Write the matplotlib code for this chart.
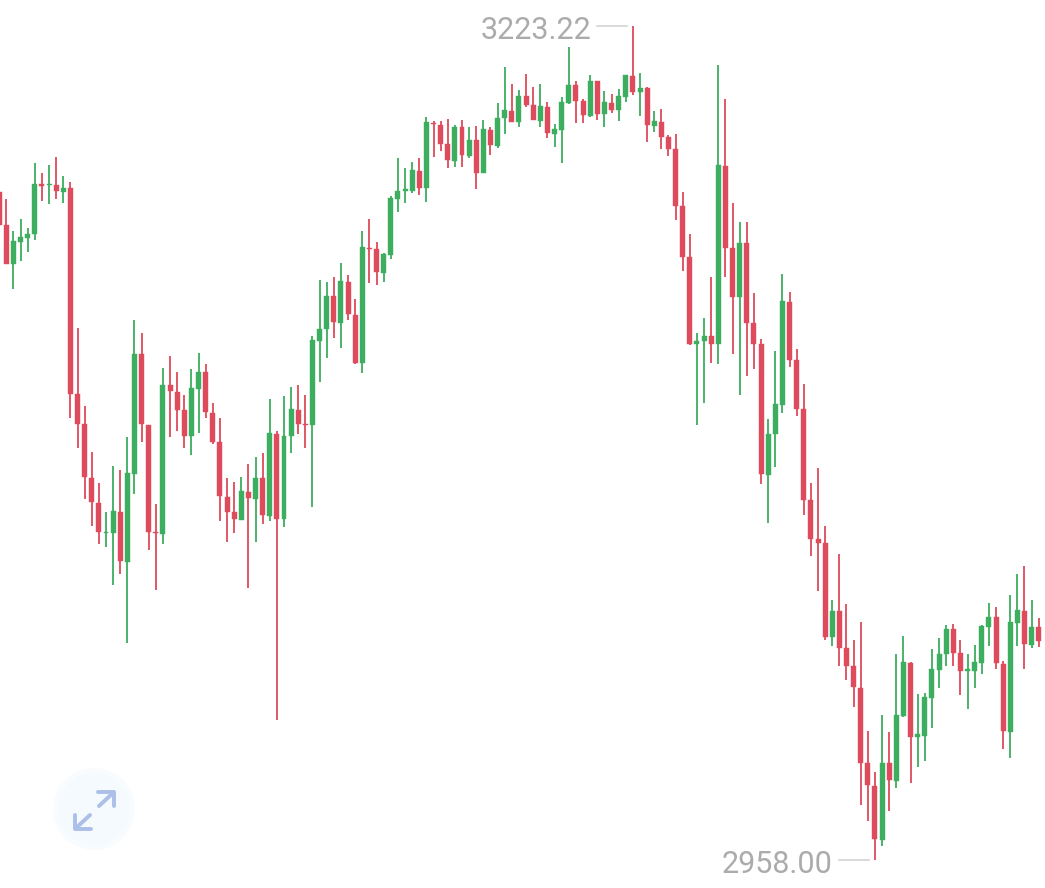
import matplotlib
matplotlib.use("Agg")
import matplotlib.pyplot as plt
from matplotlib.patches import Circle

# R = falling candle, G = rising candle
directions = list(
    "RRGGGGRGRG"  # 0-9
    "RRRRRGGRGG"  # 10-19
    "RRRGRRRGGR"  # 20-29
    "RRRRGRGRGR"  # 30-39
    "GGRRGGGRGR"  # 40-49
    "RGRRGGGGGR"  # 50-59
    "GRRRGRGRGR"  # 60-69
    "GGRGRRGRGG"  # 70-79
    "GRRGRGRGGR"  # 80-89
    "GRGRRRRRGG"  # 90-99
    "RGRRGRRRGG"  # 100-109
    "GRRRRRRGRR"  # 110-119
    "RRRRGRGGRG"  # 120-129
    "GGGGRRGGGG"  # 130-139
    "RRGGRGR"     # 140-146
)

highs = [3173.0,3168.2,3158.0,3161.9,3159.0,3179.7,3176.5,3179.0,3181.6,3175.5,
3173.6,3127.2,3102.4,3087.8,3077.9,3068.7,3083.3,3082.0,3092.5,3129.7,
3125.6,3096.4,3071.2,3114.5,3118.3,3113.2,3105.9,3114.2,3119.2,3115.7,
3103.3,3098.6,3079.5,3078.2,3079.8,3084.0,3086.2,3087.4,3104.6,3094.4,
3105.6,3108.4,3109.1,3105.9,3124.7,3142.5,3141.8,3143.4,3147.9,3144.0,
3136.4,3158.0,3161.9,3154.5,3151.0,3169.2,3181.3,3178.1,3180.0,3181.3,
3194.3,3193.0,3193.0,3193.7,3191.8,3193.3,3191.1,3191.4,3193.3,3191.1,
3198.7,3210.2,3204.8,3202.9,3208.0,3203.8,3204.8,3199.1,3192.1,3200.7,
3216.6,3205.7,3200.0,3207.6,3205.7,3202.6,3201.6,3203.2,3207.6,3223.22,
3208.3,3203.8,3196.2,3196.8,3188.6,3188.9,3170.4,3157.1,3125.6,3130.4,
3143.4,3210.8,3200.0,3167.0,3160.9,3160.9,3138.3,3123.7,3098.3,3119.9,
3144.4,3138.6,3120.5,3109.4,3077.9,3082.7,3064.2,3040.7,3055.3,3039.4,
3028.0,3033.7,2999.0,2986.0,3004.1,2998.7,3023.5,3029.3,3021.0,3010.8,
3011.1,3025.1,3028.6,3032.8,3033.1,3028.0,3023.5,3026.4,3032.8,3039.7,
3038.5,3021.3,3042.3,3049.0,3051.5,3040.7,3035.0]

body_tops = [3170.4,3160.0,3154.9,3156.1,3157.1,3173.0,3173.0,3173.0,3172.7,3171.7,
3171.7,3106.2,3096.7,3079.5,3071.5,3062.3,3069.0,3068.7,3081.1,3118.9,
3118.9,3096.4,3062.3,3109.1,3109.1,3106.8,3101.1,3108.1,3113.2,3113.2,
3100.2,3090.9,3073.4,3068.7,3075.4,3075.0,3079.5,3079.5,3093.8,3093.5,
3092.9,3101.4,3101.1,3096.7,3123.4,3126.9,3137.4,3137.4,3142.1,3141.8,
3131.3,3153.0,3152.6,3152.3,3150.7,3168.5,3170.8,3171.4,3177.4,3177.1,
3192.7,3192.4,3191.8,3185.7,3191.1,3191.1,3187.0,3187.0,3190.5,3190.2,
3194.0,3196.5,3196.2,3201.0,3201.0,3198.1,3197.8,3197.5,3190.5,3199.1,
3204.5,3204.5,3199.4,3205.7,3205.7,3199.1,3198.7,3201.0,3207.6,3207.3,
3203.5,3203.5,3193.0,3192.7,3187.9,3184.1,3166.0,3149.8,3123.1,3124.7,
3124.7,3179.0,3178.7,3152.6,3154.2,3154.2,3128.8,3122.1,3093.5,3103.0,
3135.8,3135.5,3117.0,3101.4,3072.5,3060.1,3058.8,3037.2,3037.2,3025.4,
3019.7,3012.7,2988.9,2981.5,2988.9,2988.9,3004.1,3021.0,3020.7,2998.1,
3009.9,3018.8,3023.5,3031.5,3031.5,3023.8,3018.8,3021.0,3032.4,3035.3,
3035.3,3020.4,3033.7,3037.5,3037.2,3032.1,3032.1]

body_bottoms = [3160.0,3147.5,3147.5,3154.5,3155.8,3157.1,3172.4,3172.7,3170.8,3170.4,
3106.2,3096.7,3079.8,3071.9,3062.3,3062.0,3062.0,3053.1,3052.8,3080.8,
3096.7,3062.3,3062.0,3061.7,3107.2,3101.1,3092.9,3092.9,3107.8,3100.5,
3090.9,3073.8,3068.7,3066.5,3066.1,3073.1,3072.8,3067.7,3067.4,3066.5,
3066.5,3092.9,3096.7,3096.4,3096.4,3123.1,3126.9,3129.1,3128.8,3131.6,
3116.1,3116.1,3152.3,3145.0,3144.7,3150.4,3168.2,3170.8,3170.8,3171.7,
3171.7,3192.1,3185.7,3180.6,3180.3,3182.2,3181.9,3176.5,3176.5,3185.4,
3185.1,3194.0,3192.7,3192.7,3198.1,3193.3,3193.0,3189.2,3188.9,3190.2,
3198.7,3199.4,3194.9,3194.6,3195.2,3195.2,3196.5,3196.5,3200.7,3202.2,
3202.2,3191.8,3191.4,3187.9,3184.1,3166.0,3149.8,3122.1,3122.1,3123.1,
3122.1,3122.1,3152.6,3137.1,3137.1,3128.8,3122.1,3080.8,3080.5,3093.5,
3102.7,3117.0,3101.4,3072.5,3060.1,3058.8,3028.9,3028.9,3025.4,3019.7,
3013.0,2988.9,2981.9,2964.7,2964.4,2983.5,2983.1,3003.8,2997.1,2997.1,
2997.5,3009.5,3018.4,3023.5,3023.8,3018.1,3018.1,3018.1,3020.7,3032.1,
3020.7,2999.0,2998.7,3033.4,3026.7,3026.4,3027.7]

lows = [3159.3,3147.5,3139.6,3148.5,3151.4,3155.2,3167.6,3166.6,3168.2,3167.0,
3098.6,3089.0,3072.8,3064.2,3058.5,3057.6,3045.5,3049.0,3027.0,3074.4,
3090.9,3056.6,3043.9,3058.5,3092.5,3094.4,3089.0,3086.8,3093.8,3098.6,
3090.3,3065.8,3059.1,3062.0,3066.1,3044.5,3059.1,3064.9,3065.8,3002.5,
3063.9,3087.4,3093.5,3089.0,3070.3,3110.0,3117.7,3124.0,3120.8,3129.7,
3115.8,3112.9,3141.5,3140.9,3141.8,3149.1,3164.1,3167.0,3170.1,3169.5,
3167.3,3181.6,3183.5,3178.1,3178.4,3178.4,3181.3,3171.4,3176.5,3182.2,
3184.4,3188.9,3192.7,3191.1,3197.5,3193.3,3191.1,3187.6,3184.8,3179.7,
3198.4,3192.4,3192.4,3194.3,3193.3,3191.1,3195.6,3193.0,3199.1,3201.3,
3194.6,3186.3,3189.5,3184.1,3181.9,3161.5,3145.3,3121.8,3096.4,3103.3,
3116.1,3115.8,3143.4,3118.9,3105.9,3111.9,3114.2,3077.6,3065.2,3083.0,
3100.2,3114.8,3099.2,3067.7,3054.7,3043.6,3028.0,3026.1,3019.7,3015.3,
3006.7,2975.5,2970.4,2958.0,2962.5,2973.6,2980.9,3003.5,2982.5,2987.6,
2989.5,3000.0,3012.7,3019.7,3019.7,3010.5,3006.0,3012.7,3017.2,3026.1,
3018.8,2993.3,2990.5,3026.1,3018.8,3025.4,3025.7]

COLORS = {"R": "#DE4B5C", "G": "#3DAE5F"}
LABEL_COLOR = "#ABABAB"
LEADER_COLOR = "#CFCFCF"

W, H = 1045, 888
fig = plt.figure(figsize=(W / 100, H / 100), dpi=100)
plt.rcParams["font.family"] = ["Roboto", "DejaVu Sans"]
ax = fig.add_axes([0, 0, 1, 1])
ax.set_xlim(0.112, 146.88)
ax.set_ylim(2949.1, 3231.49)
ax.axis("off")

xs = list(range(len(highs)))
cols = [COLORS[d] for d in directions]
ax.vlines(xs, lows, highs, colors=cols, linewidth=1.3, zorder=2)
ax.bar(xs, [t - b for t, b in zip(body_tops, body_bottoms)], bottom=body_bottoms,
       width=0.7, color=cols, linewidth=0.3, edgecolor=cols, zorder=3)

# extreme labels with leader lines
i_hi = highs.index(max(highs))
i_lo = lows.index(min(lows))
for idx, val in ((i_hi, max(highs)), (i_lo, min(lows))):
    ax.plot([idx - 5.0, idx - 0.8], [val, val], color=LEADER_COLOR, lw=1.1, zorder=1)
    ax.annotate(f"{val:.2f}", xy=(idx, val), xytext=(-42, -1), textcoords="offset pixels",
                ha="right", va="center_baseline", color=LABEL_COLOR, fontsize=22)

# expand button overlay, in pixel space
ov = fig.add_axes([0, 0, 1, 1], facecolor="none")
ov.set_xlim(0, W)
ov.set_ylim(H, 0)
ov.axis("off")
ov.add_patch(Circle((94, 809), 41, facecolor="#F9FCFE", edgecolor="none"))
ov.add_patch(Circle((94, 809), 36, facecolor="#F5FAFE", edgecolor="none"))
ICON = "#ABBFE8"
for path in (([98, 114, 114], [792, 792, 806]), ([99, 113], [806, 793]),
             ([75, 75, 91], [815, 829, 829]), ([90, 76], [815, 828])):
    ov.plot(path[0], path[1], color=ICON, lw=2.8, solid_capstyle="round",
            solid_joinstyle="round")

fig.savefig("out.png", dpi=100, facecolor="white")
